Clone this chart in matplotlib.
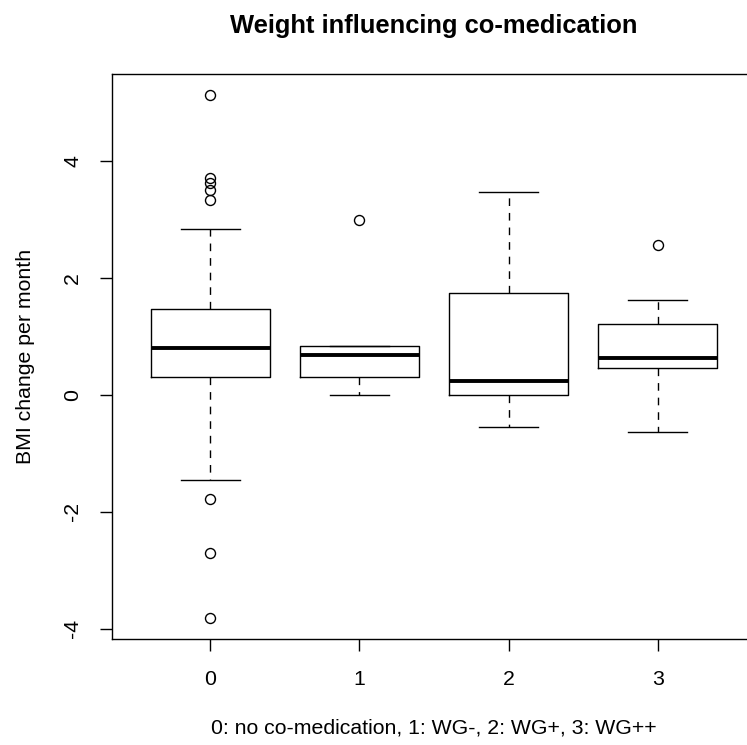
import matplotlib
matplotlib.use("Agg")
import matplotlib.pyplot as plt

plt.rcParams['font.family'] = ['Liberation Sans', 'DejaVu Sans']

# values
groups = ["0", "1", "2", "3"]
whislo = [-1.46, 0.00, -0.55, -0.63]
q1 = [0.30, 0.31, 0.00, 0.46]
med = [0.80, 0.68, 0.23, 0.63]
q3 = [1.47, 0.83, 1.75, 1.21]
whishi = [2.84, 0.84, 3.47, 1.62]
fliers = [
    [5.13, 3.72, 3.62, 3.50, 3.34, -1.78, -2.71, -3.82],
    [3.00],
    [],
    [2.56],
]
yticks = [-4, -2, 0, 2, 4]

stats = []
for i, g in enumerate(groups):
    stats.append(dict(label=g, whislo=whislo[i], q1=q1[i], med=med[i],
                      q3=q3[i], whishi=whishi[i], fliers=fliers[i]))

fig = plt.figure(figsize=(7.47, 7.45), dpi=100)
ax = fig.add_axes([0.150, 0.1423, 0.862, 0.758])

pos = list(range(1, len(groups) + 1))
ax.bxp(stats, positions=pos, widths=0.8,
       boxprops=dict(color='black', linewidth=1.0),
       medianprops=dict(color='black', linewidth=2.8, solid_capstyle='butt'),
       whiskerprops=dict(color='black', linewidth=1.0, linestyle=(0, (5.5, 5.0))),
       capprops=dict(color='black', linewidth=1.0),
       capwidths=0.4,
       flierprops=dict(marker='o', markerfacecolor='none', markeredgecolor='black',
                       markersize=7.2, markeredgewidth=1.0, linestyle='none'))

allv = whislo + whishi + [v for f in fliers for v in f]
lo, hi = min(allv), max(allv)
ext = 0.04 * (hi - lo)
ax.set_ylim(lo - ext, hi + ext)
ax.set_xlim(0.5 - 0.04 * 4, 4.5 + 0.04 * 4)

ax.set_xticks(pos)
ax.set_xticklabels(groups)
ax.set_yticks(yticks)
ax.set_yticklabels([str(t) for t in yticks], rotation=90, va='center')
ax.tick_params(direction='out', length=8.6, width=1.0, labelsize=15.3, pad=13)
ax.tick_params(axis='x', pad=14)

for s in ax.spines.values():
    s.set_linewidth(1.0)

ax.set_title("Weight influencing co-medication", fontsize=18.4, fontweight='bold', pad=30)
ax.set_xlabel("0: no co-medication, 1: WG-, 2: WG+, 3: WG++", fontsize=15.3, labelpad=21)
ax.set_ylabel("BMI change per month", fontsize=15.3, labelpad=20)

fig.savefig("out.png", dpi=100)
